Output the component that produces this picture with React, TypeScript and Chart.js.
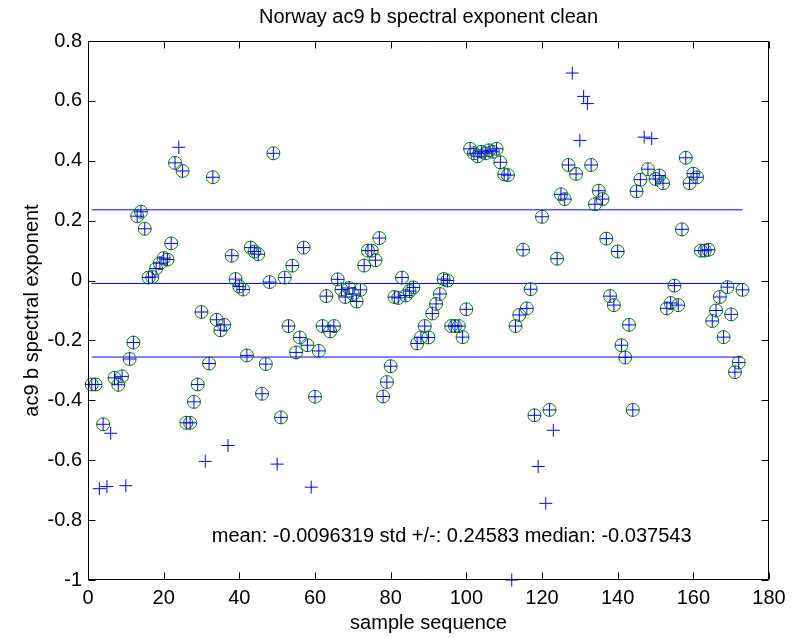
import React, { useEffect, useRef } from 'react';
import { Chart, registerables } from 'chart.js';

Chart.register(...registerables);

// ---- data (sample number = index + 1) ----
const SAMPLE_VALUES: number[] = [
  -0.347, -0.347, -0.695, -0.48, -0.688, -0.51, -0.325, -0.348, -0.32, -0.685,
  -0.262, -0.207, 0.215, 0.23, 0.173, 0.01, 0.012, 0.04, 0.058, 0.075,
  0.07, 0.124, 0.393, 0.445, 0.366, -0.475, -0.475, -0.405, -0.347, -0.105,
  -0.604, -0.277, 0.345, -0.131, -0.166, -0.148, -0.551, 0.083, 0.005, -0.02,
  -0.03, -0.25, 0.11, 0.097, 0.088, -0.378, -0.279, -0.005, 0.425, -0.613,
  -0.457, 0.01, -0.152, 0.05, -0.24, -0.19, 0.11, -0.216, -0.69, -0.388,
  -0.235, -0.152, -0.052, -0.17, -0.152, 0.004, -0.03, -0.055, -0.025, -0.045,
  -0.07, -0.031, 0.05, 0.1, 0.1, 0.068, 0.142, -0.387, -0.339, -0.286,
  -0.055, -0.058, 0.01, -0.05, -0.035, -0.023, -0.21, -0.19, -0.152, -0.19,
  -0.11, -0.078, -0.045, 0.005, 0.0, -0.152, -0.152, -0.152, -0.189, -0.096,
  0.44, 0.425, 0.415, 0.43, 0.425, 0.435, 0.43, 0.44, 0.395, 0.355,
  0.352, -1.0, -0.152, -0.115, 0.103, -0.093, -0.029, -0.45, -0.621, 0.213,
  -0.744, -0.432, -0.5, 0.073, 0.288, 0.272, 0.386, 0.693, 0.356, 0.468,
  0.615, 0.591, 0.386, 0.255, 0.3, 0.272, 0.14, -0.052, -0.082, 0.097,
  -0.216, -0.257, -0.148, -0.432, 0.298, 0.337, 0.479, 0.372, 0.474, 0.339,
  0.351, 0.325, -0.093, -0.075, -0.017, -0.082, 0.171, 0.41, 0.325, 0.357,
  0.345, 0.1, 0.1, 0.103, -0.135, -0.1, -0.055, -0.189, -0.022, -0.113,
  -0.306, -0.274, -0.031,
];

// samples removed by the cleaning (drawn with "+" only, no circle)
const OUTLIER_SAMPLES: number[] = [
  3, 5, 6, 10, 24, 31, 37, 50, 59, 112, 119, 121, 123, 128, 130, 131, 132, 147, 149,
];

const STAT_MEAN = -0.0096319;
const STAT_STD = 0.24583;
const STAT_MEDIAN = -0.037543;

const X_TICKS: number[] = [0, 20, 40, 60, 80, 100, 120, 140, 160, 180];
const Y_TICKS: number[] = [-1, -0.8, -0.6, -0.4, -0.2, 0, 0.2, 0.4, 0.6, 0.8];

const TITLE = 'Norway ac9 b spectral exponent clean';
const X_LABEL = 'sample sequence';
const Y_LABEL = 'ac9 b spectral exponent';
const NOTE_TEXT = `mean: ${STAT_MEAN} std +/-: ${STAT_STD} median: ${STAT_MEDIAN}`;
const NOTE_X = 32.7;
const NOTE_Y = -0.855;

const FONT_FAMILY = '"Liberation Sans", Arial, Helvetica, sans-serif';
const BLUE = '#0000ff';
const GREEN = '#008000';

const boxPlugin = {
  id: 'matlabBox',
  afterDatasetsDraw(chart: any) {
    const { ctx, chartArea, scales } = chart;
    const { left, right, top, bottom } = chartArea;
    const xs = scales.x;
    const ys = scales.y;
    const TL = 7;
    ctx.save();
    ctx.strokeStyle = '#000';
    ctx.lineWidth = 1;
    ctx.beginPath();
    const L = Math.round(left) + 0.5;
    const R = Math.round(right) - 0.5;
    const T = Math.round(top) + 0.5;
    const B = Math.round(bottom) - 0.5;
    ctx.moveTo(L, T);
    ctx.lineTo(R, T);
    ctx.lineTo(R, B);
    ctx.lineTo(L, B);
    ctx.closePath();
    for (const v of X_TICKS) {
      const px = Math.round(xs.getPixelForValue(v)) + 0.5;
      ctx.moveTo(px, B);
      ctx.lineTo(px, B - TL);
      ctx.moveTo(px, T);
      ctx.lineTo(px, T + TL);
    }
    for (const v of Y_TICKS) {
      const py = Math.round(ys.getPixelForValue(v)) + 0.5;
      ctx.moveTo(L, py);
      ctx.lineTo(L + TL, py);
      ctx.moveTo(R, py);
      ctx.lineTo(R - TL, py);
    }
    ctx.stroke();
    ctx.fillStyle = '#000';
    ctx.font = `20px ${FONT_FAMILY}`;
    ctx.textAlign = 'left';
    ctx.textBaseline = 'middle';
    ctx.fillText(NOTE_TEXT, xs.getPixelForValue(NOTE_X), ys.getPixelForValue(NOTE_Y));
    ctx.restore();
  },
};

export default function App() {
  const canvasRef = useRef<HTMLCanvasElement | null>(null);

  useEffect(() => {
    document.body.style.margin = '0';
    const canvas = canvasRef.current;
    if (!canvas) return;

    const n = SAMPLE_VALUES.length;
    const allPoints = SAMPLE_VALUES.map((v, i) => ({ x: i + 1, y: v }));
    const cleanPoints = allPoints.filter((p) => !OUTLIER_SAMPLES.includes(p.x));
    const hLine = (v: number) => [
      { x: 1, y: v },
      { x: n, y: v },
    ];
    const statLine = (label: string, v: number) => ({
      type: 'line',
      label,
      data: hLine(v),
      showLine: true,
      fill: false,
      borderColor: BLUE,
      backgroundColor: BLUE,
      borderWidth: 1,
      pointRadius: 0,
      pointHoverRadius: 0,
      order: 2,
    });

    Chart.defaults.font.family = FONT_FAMILY;

    const chart = new Chart(canvas, {
      type: 'scatter',
      data: {
        datasets: [
          {
            label: 'all',
            data: allPoints,
            pointStyle: 'cross',
            pointRadius: 6.5,
            pointBorderColor: BLUE,
            pointBackgroundColor: BLUE,
            pointBorderWidth: 1,
            borderColor: BLUE,
            showLine: false,
            clip: false,
            order: 0,
          } as any,
          {
            label: 'clean',
            data: cleanPoints,
            pointStyle: 'circle',
            pointRadius: 6.5,
            pointBorderColor: GREEN,
            pointBackgroundColor: 'rgba(0,0,0,0)',
            pointBorderWidth: 1,
            borderColor: GREEN,
            showLine: false,
            clip: false,
            order: 1,
          } as any,
          statLine('mean+std', STAT_MEAN + STAT_STD) as any,
          statLine('mean', STAT_MEAN) as any,
          statLine('mean-std', STAT_MEAN - STAT_STD) as any,
        ],
      },
      options: {
        responsive: false,
        animation: false,
        devicePixelRatio: 1,
        layout: { padding: { left: 0, right: 34, top: 0, bottom: 0 } },
        plugins: {
          legend: { display: false },
          tooltip: { enabled: false },
          title: {
            display: true,
            text: TITLE,
            fullSize: false,
            color: '#000',
            font: { size: 20, weight: 'normal', family: FONT_FAMILY },
            padding: { top: 5, bottom: 12 },
          },
        },
        scales: {
          x: {
            type: 'linear',
            min: 0,
            max: 180,
            grid: { display: false, drawTicks: false, tickLength: 0 },
            border: { display: false },
            afterBuildTicks: (s: any) => {
              s.ticks = X_TICKS.map((v) => ({ value: v }));
            },
            afterFit: (s: any) => {
              s.height = 58;
            },
            ticks: {
              color: '#000',
              font: { size: 20, family: FONT_FAMILY },
              padding: 6,
              maxRotation: 0,
              autoSkip: false,
              callback: (v: any) => String(v),
            },
            title: {
              display: true,
              text: X_LABEL,
              color: '#000',
              font: { size: 20, family: FONT_FAMILY },
              padding: { top: 0, bottom: 3 },
            },
          },
          y: {
            type: 'linear',
            min: -1,
            max: 0.8,
            grid: { display: false, drawTicks: false, tickLength: 0 },
            border: { display: false },
            afterBuildTicks: (s: any) => {
              s.ticks = Y_TICKS.map((v) => ({ value: v }));
            },
            afterFit: (s: any) => {
              s.width = 88;
            },
            ticks: {
              color: '#000',
              font: { size: 20, family: FONT_FAMILY },
              padding: 6,
              autoSkip: false,
              callback: (v: any) => String(Math.round(Number(v) * 10) / 10),
            },
            title: {
              display: true,
              text: Y_LABEL,
              color: '#000',
              font: { size: 20, family: FONT_FAMILY },
              padding: { top: 20, bottom: 0 },
            },
          },
        },
      } as any,
      plugins: [boxPlugin],
    });

    return () => {
      chart.destroy();
    };
  }, []);

  return (
    <div style={{ width: 803, height: 638, background: '#fff' }}>
      <canvas ref={canvasRef} width={803} height={638} style={{ display: 'block' }} />
    </div>
  );
}
